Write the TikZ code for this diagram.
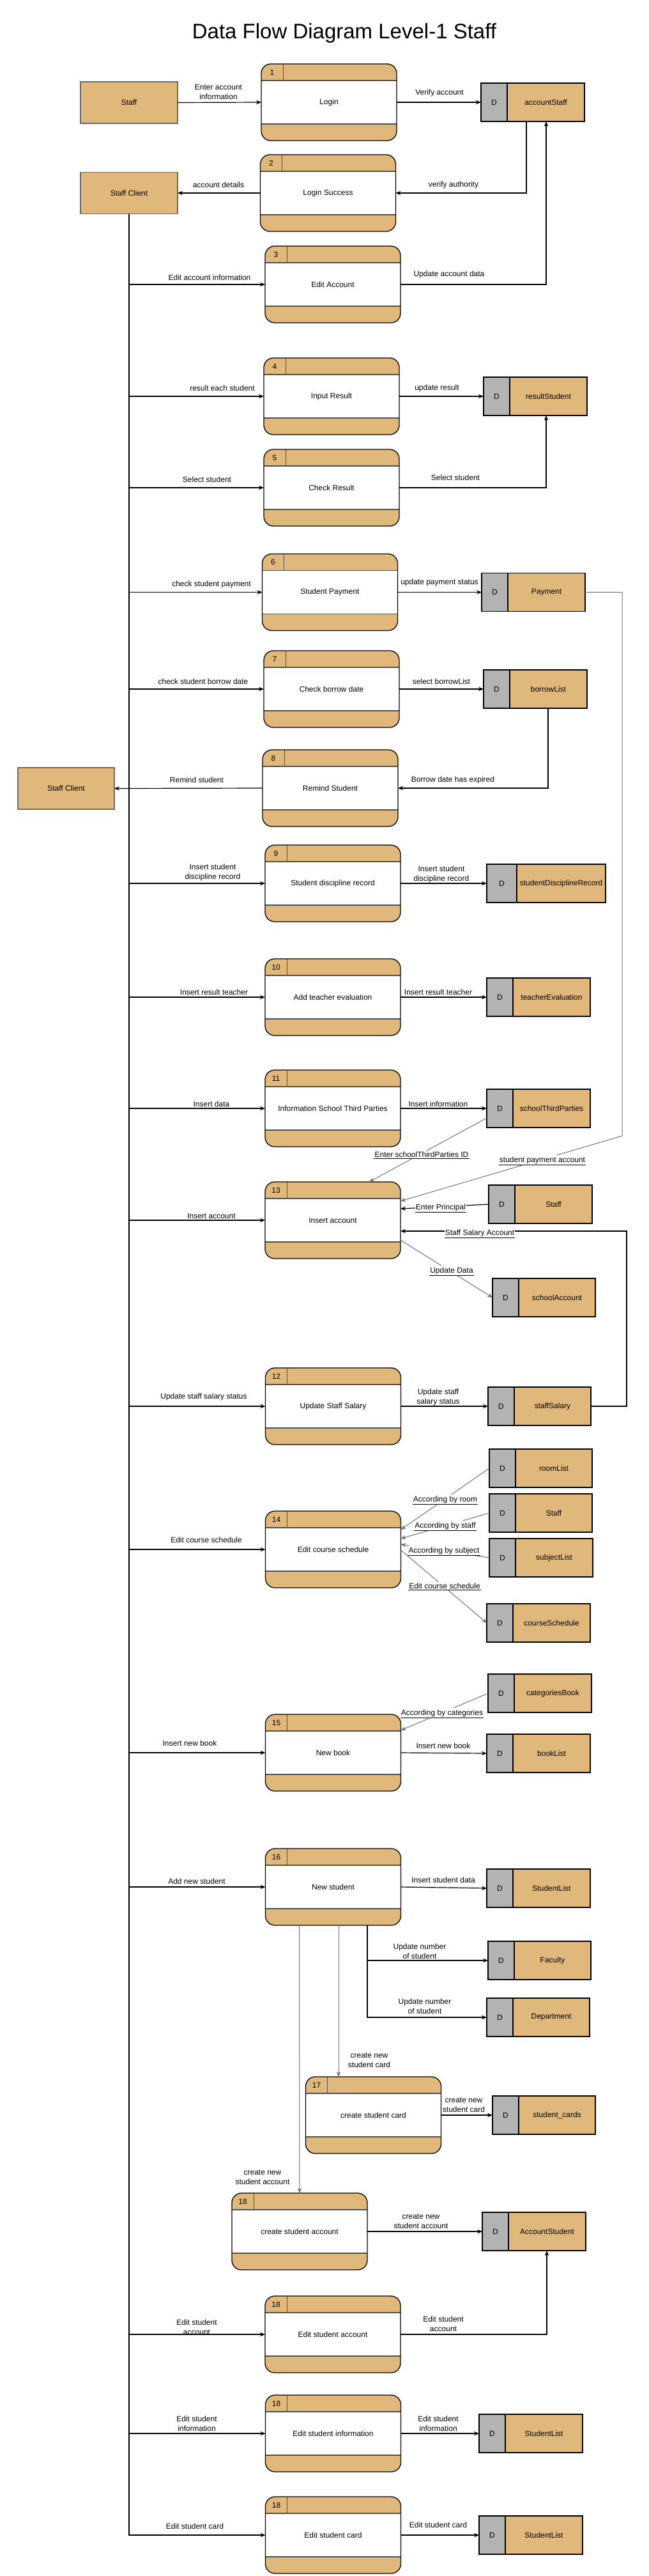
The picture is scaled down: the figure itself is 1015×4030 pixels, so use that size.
\documentclass[tikz,border=0pt]{standalone}
\usepackage{fontspec}
\setmainfont{Liberation Sans}
\usetikzlibrary{arrows.meta,calc}
\definecolor{tanc}{HTML}{E0B87B}
\definecolor{dgray}{HTML}{B3B3B3}
\definecolor{bandc}{HTML}{505050}
\definecolor{lgray}{HTML}{707070}
\definecolor{entb}{HTML}{6E6A60}
\newcommand\lab{\fontsize{12}{15}\selectfont}
\tikzset{
  proc/.style={draw=black, line width=1.3pt, rounded corners=15pt, minimum width=212pt, minimum height=120pt,
    inner sep=0pt, outer sep=0pt, fill=white, font=\lab,
    path picture={
      \fill[tanc, sharp corners] (path picture bounding box.north west) rectangle ([yshift=-26pt]path picture bounding box.north east);
      \fill[tanc, sharp corners] (path picture bounding box.south west) rectangle ([yshift=26pt]path picture bounding box.south east);
      \draw[bandc, line width=1.5pt, sharp corners] ([yshift=-26pt]path picture bounding box.north west) -- ([yshift=-26pt]path picture bounding box.north east);
      \draw[bandc, line width=1.5pt, sharp corners] ([yshift=26pt]path picture bounding box.south west) -- ([yshift=26pt]path picture bounding box.south east);
      \draw[bandc, line width=1pt, sharp corners] ([xshift=34pt]path picture bounding box.north west) -- ([xshift=34pt,yshift=-26pt]path picture bounding box.north west);
    }},
  numtxt/.style={font=\lab, inner sep=0pt},
  ent/.style={draw=entb, line width=1.5pt, fill=tanc, minimum width=152pt, minimum height=65pt, font=\lab, inner sep=0pt, outer sep=0pt},
  dstore/.style={draw=black, line width=1.4pt, fill=tanc, minimum height=60pt, inner sep=0pt, outer sep=0pt},
  flow/.style={->, line width=1.2pt, black},
  gflow/.style={->, line width=1pt, lgray},
  lab/.style={font=\lab, align=center, inner sep=1pt},
  ulab/.style={font=\lab, align=center, fill=white, inner xsep=1pt, inner ysep=2pt},
  uline/.style={line width=1.1pt, black},
}
\newcommand\proc[4]{\node[proc] (#1) at (#2) {#4};
  \node[numtxt] (#1n) at ([xshift=17pt,yshift=-13pt]#1.north west) {#3};}
\newcommand\dstore[5]{\node[dstore, minimum width=#3pt,
    path picture={\fill[dgray] (path picture bounding box.north west) rectangle ([xshift=#4pt]path picture bounding box.south west);
      \draw[black, line width=1.2pt] ([xshift=#4pt]path picture bounding box.north west) -- ([xshift=#4pt]path picture bounding box.south west);}] (#1) at (#2) {};
  \node[font=\lab, inner sep=0pt] (#1d) at ([xshift=#4*0.5pt]#1.west) {D};
  \node[font=\lab, inner sep=0pt] (#1t) at ([xshift=#4*0.5pt]#1.center) {#5};}
\begin{document}
\begin{tikzpicture}[x=1pt, y=-1pt, >={Stealth[length=8pt,width=6.5pt]}]
\useasboundingbox (0,0) rectangle (1015,4030);
\fill[white] (0,0) rectangle (1015,4030);

\node[font=\fontsize{33}{40}\selectfont] (title) at (539,52) {Data Flow Diagram Level-1 Staff};

% external entities
\node[ent] (staff) at (202,160.5) {Staff};
\node[ent] (client1) at (202,302) {Staff Client};
\node[ent, minimum width=151pt] (client2) at (103.5,1233.5) {Staff Client};

% processes
\proc{p1}{515,160}{1}{Login}
\proc{p2}{513.5,302}{2}{Login Success}
\proc{p3}{521,445}{3}{Edit Account}
\proc{p4}{519,620}{4}{Input Result}
\proc{p5}{519,763}{5}{Check Result}
\proc{p6}{516.5,926.5}{6}{Student Payment}
\proc{p7}{519,1078}{7}{Check borrow date}
\proc{p8}{517,1233}{8}{Remind Student}
\proc{p9}{521,1382}{9}{Student discipline record}
\proc{p10}{521,1560}{10}{Add teacher evaluation}
\proc{p11}{521,1734}{11}{Information School Third Parties}
\proc{p13}{521,1909}{13}{Insert account}
\proc{p12}{521.5,2200}{12}{Update Staff Salary}
\proc{p14}{521.5,2424}{14}{Edit course schedule}
\proc{p15}{521.5,2742}{15}{New book}
\proc{p16}{521.5,2952}{16}{New student}
\proc{p17}{584.5,3309}{17}{create student card}
\proc{p18a}{469,3491}{18}{create student account}
\proc{p18b}{521,3652}{18}{Edit student account}
\proc{p18c}{521.5,3807}{18}{Edit student information}
\proc{p18d}{521.5,3966}{18}{Edit student card}

% data stores
\dstore{accS}{834,160}{162}{41}{accountStaff}
\dstore{resS}{838,620}{162}{41}{resultStudent}
\dstore{pay}{835,926.5}{162}{41}{Payment}
\dstore{bor}{838,1078}{162}{41}{borrowList}
\dstore{sdr}{855,1382}{186}{47}{studentDisciplineRecord}
\dstore{tev}{843,1560}{162}{41}{teacherEvaluation}
\dstore{stp}{843,1734}{162}{41}{schoolThirdParties}
\dstore{stf1}{846,1884}{162}{41}{Staff}
\dstore{sacc}{851.5,2030}{161}{41}{schoolAccount}
\dstore{ssal}{844.5,2200}{161}{41}{staffSalary}
\dstore{room}{846.5,2297}{161}{41}{roomList}
\dstore{stf2}{846.5,2367}{161}{41}{Staff}
\dstore{subj}{847,2437}{162}{41}{subjectList}
\dstore{csch}{843,2539}{162}{41}{courseSchedule}
\dstore{cat}{845,2649}{162}{41}{categoriesBook}
\dstore{book}{843,2743}{162}{41}{bookList}
\dstore{sl1}{843,2954}{162}{41}{StudentList}
\dstore{fac}{844.5,3067}{161}{41}{Faculty}
\dstore{dep}{842.5,3156}{161}{41}{Department}
\dstore{scard}{851.5,3309}{161}{41}{student\_cards}
\dstore{accst}{836,3491}{162}{41}{AccountStudent}
\dstore{sl2}{831,3807}{162}{41}{StudentList}
\dstore{sl3}{831,3966}{162}{41}{StudentList}

% trunk from Staff Client
\foreach \p in {p3,p4,p5,p6,p7,p9,p10,p11,p13,p12,p14,p15,p16,p18b,p18c,p18d}
  \draw[flow] (client1.south) |- (\p.west);

% connectors
\draw[flow] (staff.east) -- (p1.west);
\draw[flow] (p1.east) -- (accS.west);
\draw[flow] ([xshift=-10pt]accS.south) |- (p2.east);
\draw[flow] (p2.west) -- (client1.east);
\draw[flow] (p3.east) -| ([xshift=21pt]accS.south);
\draw[flow] (p4.east) -- (resS.west);
\draw[flow] (p5.east) -| ([xshift=17pt]resS.south);
\draw[flow] (p6.east) -- (pay.west);
\coordinate (payc) at (974,1777);
\draw[gflow] (pay.east) -| (payc) -- ([yshift=30pt]p13.east);
\draw[flow] (p7.east) -- (bor.west);
\draw[flow] ([xshift=20pt]bor.south) |- (p8.east);
\draw[flow] (p8.west) -- (client2.east);
\draw[flow] (p9.east) -- (sdr.west);
\draw[flow] (p10.east) -- (tev.west);
\draw[flow] (p11.east) -- (stp.west);
\draw[gflow] ([yshift=-15pt]stp.west) -- ([xshift=57pt]p13.north);
\draw[flow] (stf1.west) -- ([yshift=18pt]p13.east);
\coordinate (salc) at (981,1926);
\draw[flow] (ssal.east) -| (salc) -- ([yshift=-17pt]p13.east);
\draw[gflow] ([yshift=-31pt]p13.east) -- (sacc.west);
\draw[flow] (p12.east) -- (ssal.west);
\draw[gflow] (room.west) -- ([yshift=31pt]p14.east);
\draw[gflow] (stf2.west) -- ([yshift=17pt]p14.east);
\draw[gflow] (subj.west) -- ([yshift=8pt]p14.east);
\draw[gflow] ([yshift=-1pt]p14.east) -- (csch.west);
\draw[gflow] (cat.west) -- ([yshift=35pt]p15.east);
\draw[flow] (p15.east) -- (book.west);
\draw[flow] (p16.east) -- (sl1.west);
\draw[gflow] ([xshift=-53pt]p16.south) -- (p18a.north);
\draw[gflow] ([xshift=8.5pt]p16.south) -- ([xshift=-54.5pt]p17.north);
\draw[flow] ([xshift=53.5pt]p16.south) |- (fac.west);
\draw[flow] ([xshift=53.5pt]p16.south) |- (dep.west);
\draw[flow] (p17.east) -- (scard.west);
\draw[flow] (p18a.east) -- (accst.west);
\draw[flow] (p18b.east) -| ([xshift=20pt]accst.south);
\draw[flow] (p18c.east) -- (sl2.west);
\draw[flow] (p18d.east) -- (sl3.west);

% plain labels
\node[lab] (l1) at (342,143.5) {Enter account\\information};
\node[lab] (l2) at (688,145) {Verify account};
\node[lab] (l3) at (342,289) {account details};
\node[lab] (l4) at (710,289) {verify authority};
\node[lab] (l5) at (328,434) {Edit account information};
\node[lab] (l6) at (703,429) {Update account data};
\node[lab] (l7) at (348,607) {result each student};
\node[lab] (l8) at (684,607) {update result};
\node[lab] (l9) at (324,750) {Select student};
\node[lab] (l10) at (713,747) {Select student};
\node[lab] (l11) at (331,914) {check student payment};
\node[lab] (l12) at (688,911) {update payment status};
\node[lab] (l13) at (318,1066) {check student borrow date};
\node[lab] (l14) at (691,1066) {select borrowList};
\node[lab] (l15) at (308,1220) {Remind student};
\node[lab] (l16) at (709,1220) {Borrow date has expired};
\node[lab] (l17) at (333,1364.5) {Insert student\\discipline record};
\node[lab] (l18) at (691,1367.5) {Insert student\\discipline record};
\node[lab] (l19) at (335,1552) {Insert result teacher};
\node[lab] (l20) at (686,1552) {Insert result teacher};
\node[lab] (l21) at (331,1727) {Insert data};
\node[lab] (l22) at (686,1727) {Insert information};
\node[lab] (l23) at (331,1902) {Insert account};
\node[lab] (l24) at (319,2185) {Update staff salary status};
\node[lab] (l25) at (686,2185.5) {Update staff\\salary status};
\node[lab] (l26) at (323,2409) {Edit course schedule};
\node[lab] (l27) at (297,2727) {Insert new book};
\node[lab] (l28) at (694,2731) {Insert new book};
\node[lab] (l29) at (308,2943) {Add new student};
\node[lab] (l30) at (694,2941) {Insert student data};
\node[lab] (l31) at (657,3052.5) {Update number\\of student};
\node[lab] (l32) at (665,3138.5) {Update number\\of student};
\node[lab] (l33) at (578,3223.5) {create new\\student card};
\node[lab] (l34) at (726,3293.5) {create new\\student card};
\node[lab] (l35) at (411,3406.5) {create new\\student account};
\node[lab] (l36) at (659,3475.5) {create new\\student account};
\node[lab] (l37) at (308,3640.5) {Edit student\\account};
\node[lab] (l38) at (694,3635.5) {Edit student\\account};
\node[lab] (l39) at (308,3791.5) {Edit student\\information};
\node[lab] (l40) at (686,3791.5) {Edit student\\information};
\node[lab] (l41) at (305,3952) {Edit student card};
\node[lab] (l42) at (686,3950) {Edit student card};

% underlined labels on slanted connectors
\foreach \n/\pos/\txt in {
  u1/{660,1806}/{Enter schoolThirdParties ID},
  u2/{849,1815}/{student payment account},
  u3/{690,1889}/{Enter Principal},
  u4/{751,1929}/{Staff Salary Account},
  u5/{707,1988}/{Update Data},
  u6/{697,2346}/{According by room},
  u7/{697,2387}/{According by staff},
  u8/{695,2426}/{According by subject},
  u9/{696,2481}/{Edit course schedule},
  u10/{692,2680}/{According by categories}}
{
  \node[ulab] (\n) at (\pos) {\txt};
  \draw[uline] (\n.south west) -- (\n.south east);
}
\end{tikzpicture}
\end{document}
